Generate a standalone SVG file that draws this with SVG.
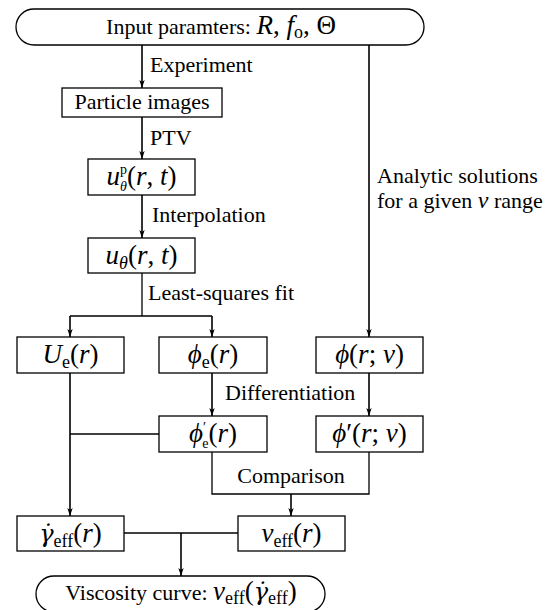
<svg xmlns="http://www.w3.org/2000/svg" width="555" height="610" viewBox="0 0 555 610">
<style>
.b{fill:#fff;stroke:#000;stroke-width:1.3}
.t{font-family:"Liberation Serif","Times New Roman",serif;font-size:22px;fill:#000}
.m{font-family:"Liberation Serif","Times New Roman",serif;font-size:27px;fill:#000;text-anchor:middle}
.mid{text-anchor:middle}
.i{font-style:italic}
.g{font-family:"DejaVu Serif",serif;font-style:italic;font-size:24px}
.s{font-size:18px}
.ss{font-size:14px}
.c path{stroke:#000;stroke-width:1.3;fill:none}
.c path.a{stroke-width:1.6;marker-end:url(#ah)}
</style>
<defs>
<marker id="ah" markerUnits="userSpaceOnUse" markerWidth="8" markerHeight="12" viewBox="0 0 12 8" refX="12" refY="4" orient="auto">
<path d="M0,0 L12,4 L0,8 L3,4 z" fill="#000"/>
</marker>
</defs>
<rect width="555" height="610" fill="#fff"/>
<g id="connectors" class="c">
<path class="a" d="M142,45 V88"/>
<path class="a" d="M142,117 V159"/>
<path class="a" d="M142,195 V238"/>
<path d="M142,273 V316 M70,316 H212"/>
<path class="a" d="M70,316 V337"/>
<path class="a" d="M212,316 V337"/>
<path class="a" d="M369,45 V337"/>
<path class="a" d="M212,373 V416"/>
<path class="a" d="M369,373 V416"/>
<path class="a" d="M70,373 V516"/>
<path d="M70,434 H159"/>
<path d="M212,452 V494 H369 V452"/>
<path class="a" d="M291,494 V516"/>
<path d="M124,533 H238"/>
<path class="a" d="M181,533 V576"/>
<text class="t" x="150" y="72">Experiment</text>
<text class="t" x="150" y="145">PTV</text>
<text class="t" x="152" y="222">Interpolation</text>
<text class="t" x="148" y="300">Least-squares fit</text>
<text class="t" x="377" y="183">Analytic solutions</text>
<text class="t" x="377" y="208">for a given <tspan class="i" font-size="24">ν</tspan> range</text>
<text class="t" x="225" y="400">Differentiation</text>
<text class="t mid" x="291" y="483">Comparison</text>
</g>
<g id="input">
<rect class="b" x="16" y="9" width="408" height="36" rx="18"/>
<text class="t mid" x="221" y="34">Input paramters:  <tspan class="i" font-size="27">R</tspan><tspan font-size="27">, </tspan><tspan class="i" font-size="27">f</tspan><tspan class="s" dy="4">o</tspan><tspan dy="-4" font-size="27">, </tspan><tspan font-size="27">Θ</tspan></text>
</g>
<g id="particle">
<rect class="b" x="62" y="88" width="160" height="29"/>
<text class="t mid" x="142" y="109">Particle images</text>
</g>
<g id="up">
<rect class="b" x="88" y="159" width="107" height="36"/>
<text class="m" x="141.5" y="185"><tspan class="i">u</tspan><tspan class="ss" dy="-11">p</tspan><tspan class="ss i" dx="-7" dy="17">θ</tspan><tspan dy="-6">(</tspan><tspan class="i">r</tspan>, <tspan class="i">t</tspan>)</text>
</g>
<g id="u">
<rect class="b" x="88" y="238" width="107" height="35"/>
<text class="m" x="141.5" y="264"><tspan class="i">u</tspan><tspan class="s i" dy="5">θ</tspan><tspan dy="-5">(</tspan><tspan class="i">r</tspan>, <tspan class="i">t</tspan>)</text>
</g>
<g id="Ue">
<rect class="b" x="17" y="337" width="107" height="36"/>
<text class="m" x="70.5" y="363"><tspan class="i">U</tspan><tspan class="s" dy="5">e</tspan><tspan dy="-5">(</tspan><tspan class="i">r</tspan>)</text>
</g>
<g id="phie">
<rect class="b" x="159" y="337" width="108" height="36"/>
<text class="m" x="213" y="363"><tspan class="i">ϕ</tspan><tspan class="s" dy="5">e</tspan><tspan dy="-5">(</tspan><tspan class="i">r</tspan>)</text>
</g>
<g id="phi">
<rect class="b" x="316" y="337" width="107" height="36"/>
<text class="m" x="369.5" y="363"><tspan class="i">ϕ</tspan>(<tspan class="i">r</tspan>; <tspan class="i">ν</tspan>)</text>
</g>
<g id="phie-prime">
<rect class="b" x="159" y="416" width="108" height="36"/>
<text class="m" x="213" y="442"><tspan class="i">ϕ</tspan><tspan class="ss" dy="-10">′</tspan><tspan class="ss" dx="-4" dy="16">e</tspan><tspan dy="-6">(</tspan><tspan class="i">r</tspan>)</text>
</g>
<g id="phi-prime">
<rect class="b" x="316" y="416" width="107" height="36"/>
<text class="m" x="369.5" y="442"><tspan class="i">ϕ</tspan>′(<tspan class="i">r</tspan>; <tspan class="i">ν</tspan>)</text>
</g>
<g id="gamma">
<rect class="b" x="17" y="516" width="107" height="35"/>
<text class="m" x="70.5" y="542"><tspan class="g">γ̇</tspan><tspan class="s" dy="5">eff</tspan><tspan dy="-5">(</tspan><tspan class="i">r</tspan>)</text>
</g>
<g id="nueff">
<rect class="b" x="238" y="516" width="107" height="35"/>
<text class="m" x="291.5" y="542"><tspan class="i">ν</tspan><tspan class="s" dy="5">eff</tspan><tspan dy="-5">(</tspan><tspan class="i">r</tspan>)</text>
</g>
<g id="viscosity">
<rect class="b" x="36" y="576" width="289" height="36" rx="18"/>
<text class="t mid" x="181" y="600">Viscosity curve:  <tspan class="i" font-size="27">ν</tspan><tspan class="s" dy="4">eff</tspan><tspan dy="-4" font-size="27">(</tspan><tspan class="g">γ̇</tspan><tspan class="s" dy="4">eff</tspan><tspan dy="-4" font-size="27">)</tspan></text>
</g>
</svg>
